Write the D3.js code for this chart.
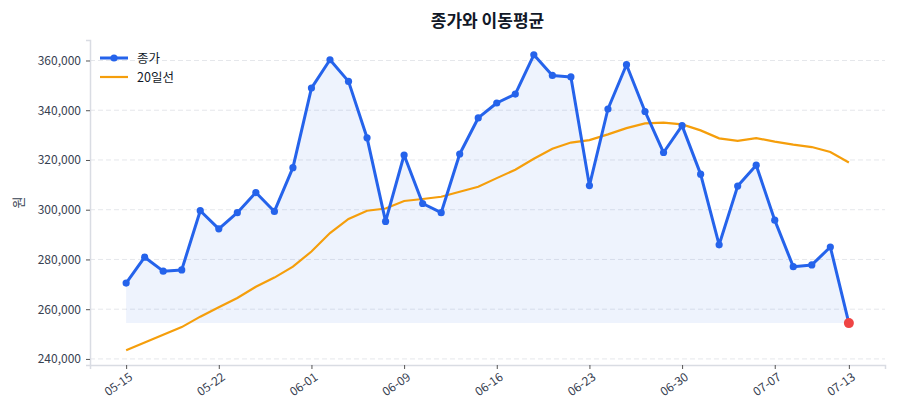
<!DOCTYPE html>
<html><head><meta charset="utf-8">
<script src="https://cdn.jsdelivr.net/npm/d3@7"></script>
<style>
body{margin:0;background:#fff;}
svg{display:block;font-family:"Noto Sans CJK KR","Noto Sans",sans-serif;}
</style></head>
<body><svg id="c" width="900" height="420"></svg>
<script>
const dates = ["05-15","05-16","05-17","05-18","05-19","05-22","05-23","05-24","05-25","05-26",
"06-01","06-02","06-05","06-07","06-08","06-09","06-12","06-13","06-14","06-15",
"06-16","06-19","06-20","06-21","06-22","06-23","06-26","06-27","06-28","06-29",
"06-30","07-03","07-04","07-05","07-06","07-07","07-10","07-11","07-12","07-13"];
const close = [270500,280900,275300,275800,299600,292300,298800,306900,299300,316900,
348900,360300,351600,328900,295300,322000,302500,298800,322400,336900,
342900,346500,362300,354000,353400,309700,340500,358300,339500,323000,
333800,314300,285900,309500,317900,295800,277100,277800,285000,254400];
const ma20 = [243500,246600,249700,252800,257000,260800,264500,269000,272700,277100,
283200,290600,296300,299600,300500,303500,304300,305200,307200,309200,
312700,316100,320500,324500,327000,328000,330300,332800,334700,335000,
334300,331900,328700,327700,328800,327400,326200,325200,323200,319000];
const yTicks = [240000,260000,280000,300000,320000,340000,360000];
const xTickIdx = [0,5,10,15,20,25,30,35,39];
const seriesNames = ["종가","20일선"];
const title = "종가와 이동평균";
const yLabel = "원";

const svg = d3.select("#c");
const m = {l:90, r:15, t:40, b:55};
const W = 900, H = 420;
const n = close.length;
const x = d3.scaleLinear().domain([-0.05*(n-1), (n-1)*1.05]).range([m.l, W-m.r]);
const all = close.concat(ma20);
const lo = d3.min(all), hi = d3.max(all), pad = (hi-lo)*0.05;
const y = d3.scaleLinear().domain([lo-pad, hi+pad]).range([H-m.b, m.t]);

// grid
svg.append("g").selectAll("line").data(yTicks).join("line")
  .attr("x1", m.l).attr("x2", W-m.r)
  .attr("y1", d=>y(d)).attr("y2", d=>y(d))
  .attr("stroke","#e5e7eb").attr("stroke-width",1).attr("stroke-dasharray","5,3");

// area fill
const base = d3.min(close);
svg.append("path").datum(close)
  .attr("d", d3.area().x((d,i)=>x(i)).y0(y(base)).y1(d=>y(d)))
  .attr("fill","#2563eb").attr("fill-opacity",0.08);

// ma line
svg.append("path").datum(ma20)
  .attr("d", d3.line().x((d,i)=>x(i)).y(d=>y(d)))
  .attr("fill","none").attr("stroke","#f59e0b").attr("stroke-width",2.2);

// close line
svg.append("path").datum(close)
  .attr("d", d3.line().x((d,i)=>x(i)).y(d=>y(d)))
  .attr("fill","none").attr("stroke","#2563eb").attr("stroke-width",3).attr("stroke-linejoin","round");
svg.append("g").selectAll("circle").data(close.slice(0,n-1)).join("circle")
  .attr("cx",(d,i)=>x(i)).attr("cy",d=>y(d)).attr("r",3.6).attr("fill","#2563eb");
svg.append("circle").attr("cx",x(n-1)).attr("cy",y(close[n-1])).attr("r",5).attr("fill","#ef4444");

// axes
const yAxis = svg.append("g").attr("transform",`translate(${m.l},0)`)
  .call(d3.axisLeft(y).tickValues(yTicks).tickFormat(d3.format(",")).tickSize(4).tickPadding(5));
const xAxis = svg.append("g").attr("transform",`translate(0,${H-m.b})`)
  .call(d3.axisBottom(x).tickValues(xTickIdx).tickFormat(i=>dates[i]).tickSize(4).tickPadding(4));
[yAxis,xAxis].forEach(a=>{
  a.select(".domain").attr("stroke","#d9dce3").attr("stroke-width",1.5);
  a.selectAll(".tick line").attr("stroke","#555").attr("stroke-width",1);
  a.selectAll("text").attr("fill","#374151").style("font-size","12px").style("font-family",'"Noto Sans CJK KR","Noto Sans",sans-serif');
});
xAxis.selectAll("text").attr("text-anchor","end").attr("dx","-0.2em").attr("dy","0.6em")
  .attr("transform","rotate(-35)");

// title / label
svg.append("text").attr("x",(m.l+W-m.r)/2).attr("y",27).attr("text-anchor","middle")
  .style("font-size","17px").style("font-weight","bold").attr("fill","#111827").text(title);
svg.append("text").attr("transform",`translate(23,${(m.t+H-m.b)/2}) rotate(-90)`).attr("text-anchor","middle")
  .style("font-size","13px").attr("fill","#374151").text(yLabel);

// legend
const lg = svg.append("g").attr("transform","translate(100,58)");
lg.append("line").attr("x1",0).attr("x2",28).attr("y1",0).attr("y2",0).attr("stroke","#2563eb").attr("stroke-width",3);
lg.append("circle").attr("cx",14).attr("cy",0).attr("r",3.6).attr("fill","#2563eb");
lg.append("text").attr("x",37).attr("y",4.5).style("font-size","12.5px").attr("fill","#111827").text(seriesNames[0]);
lg.append("line").attr("x1",0).attr("x2",28).attr("y1",19).attr("y2",19).attr("stroke","#f59e0b").attr("stroke-width",2.2);
lg.append("text").attr("x",37).attr("y",23.5).style("font-size","12.5px").attr("fill","#111827").text(seriesNames[1]);
</script></body></html>
